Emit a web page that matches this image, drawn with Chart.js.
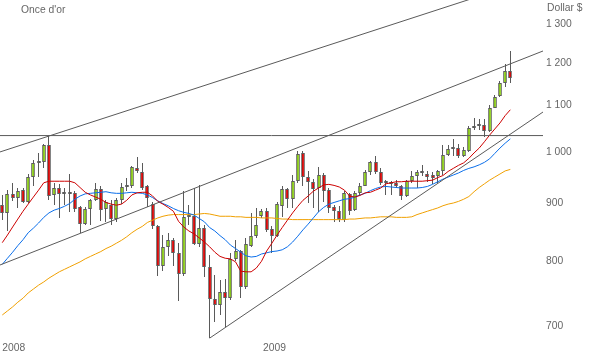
<!DOCTYPE html>
<html>
<head>
<meta charset="utf-8">
<script src="https://cdn.jsdelivr.net/npm/chart.js@4.4.1/dist/chart.umd.min.js"></script>
<style>
  html, body { margin: 0; padding: 0; background: #fff; }
  #wrap { position: relative; width: 591px; height: 353px; overflow: hidden; }
  canvas { position: absolute; left: 0; top: 0; }
  .label {
    position: absolute;
    font: 10.3px "Liberation Sans", Arial, sans-serif;
    color: #666;
    line-height: 1;
    white-space: nowrap;
  }
</style>
</head>
<body>
<div id="wrap">
  <canvas id="goldChart" width="591" height="353"></canvas>
  <div class="label" style="left:21px; top:5px">Once d'or</div>
  <div class="label" style="left:547px; top:3px">Dollar $</div>
</div>
<script>
// weekly candles, Jan 2008 -> Dec 2009 (index = week number)
const opens = [894, 878, 913, 906, 921, 899, 946, 974, 976, 1011,
  912, 925, 915, 913, 916, 889, 859, 886, 902, 923,
  886, 893, 868, 902, 927, 928, 964, 955, 929, 896,
  856, 788, 819, 832, 809, 775, 872, 874, 825, 852,
  787, 737, 728, 747, 738, 800, 813, 755, 822, 838,
  874, 882, 851, 839, 891, 923, 904, 938, 993, 946,
  936, 925, 950, 921, 890, 882, 867, 913, 884, 915,
  929, 955, 975, 955, 936, 932, 934, 928, 910, 938,
  948, 956, 952, 950, 948, 957, 990, 1002, 1004, 988,
  998, 1046, 1051, 1052, 1039, 1091, 1116, 1148, 1175];

const highs = [912, 921, 934, 925, 925, 952, 980, 993, 1013, 1029,
  934, 932, 925, 952, 919, 892, 889, 904, 934, 928,
  902, 902, 906, 934, 945, 967, 986, 974, 931, 899,
  857, 840, 843, 835, 826, 919, 893, 925, 931, 857,
  806, 774, 766, 768, 809, 832, 815, 835, 879, 888,
  886, 887, 855, 899, 928, 925, 950, 997, 997, 958,
  942, 965, 954, 925, 894, 891, 919, 915, 919, 934,
  960, 977, 988, 963, 940, 938, 940, 931, 940, 958,
  960, 970, 958, 956, 960, 1010, 1011, 1023, 1012, 1006,
  1050, 1067, 1065, 1065, 1096, 1120, 1152, 1194, 1226];

const lows = [867, 847, 900, 887, 897, 897, 929, 946, 964, 902,
  893, 870, 893, 881, 881, 843, 857, 857, 900, 865,
  863, 857, 863, 896, 919, 925, 954, 921, 890, 851,
  772, 780, 804, 788, 734, 772, 857, 823, 819, 770,
  680, 703, 713, 696, 735, 796, 738, 752, 820, 835,
  870, 846, 809, 837, 872, 887, 887, 934, 928, 897,
  888, 881, 899, 878, 863, 863, 863, 876, 882, 912,
  928, 950, 952, 931, 912, 912, 926, 902, 908, 934,
  925, 948, 936, 932, 934, 950, 987, 987, 983, 986,
  995, 1042, 1042, 1027, 1037, 1089, 1114, 1138, 1148];

const closes = [878, 913, 906, 919, 899, 946, 974, 976, 1011, 910,
  925, 913, 913, 917, 886, 859, 886, 902, 923, 884,
  899, 868, 902, 927, 929, 965, 957, 925, 906, 856,
  788, 819, 832, 809, 775, 872, 874, 825, 852, 786,
  737, 728, 747, 738, 800, 813, 755, 825, 838, 858,
  882, 848, 839, 896, 923, 904, 938, 992, 946, 936,
  923, 950, 919, 888, 882, 868, 915, 882, 915, 929,
  955, 975, 955, 934, 934, 935, 928, 910, 938, 948,
  956, 953, 946, 945, 957, 990, 1002, 1004, 988, 1000,
  1046, 1051, 1053, 1039, 1091, 1114, 1148, 1175, 1158];

// moving averages (short / medium / long)
const maShort = [827, 840, 854, 868, 882, 895, 908, 921, 935, 938,
  938, 938, 938, 938, 935, 926, 917, 912, 908, 904,
  898, 895, 893, 895, 902, 912, 916, 917, 917, 910,
  900, 895, 889, 882, 864, 854, 847, 842, 835, 828,
  820, 811, 804, 801, 800, 795, 780, 779, 779, 785,
  796, 813, 826, 840, 853, 866, 879, 891, 902, 910,
  919, 925, 931, 932, 930, 927, 921, 910, 908, 911,
  916, 917, 921, 925, 933, 935, 937, 937, 938, 938,
  938, 938, 939, 940, 945, 949, 957, 963, 969, 974,
  983, 994, 1004, 1017, 1031, 1044, 1057, 1073, 1086];

const maMedium = [791, 801, 811, 822, 832, 844, 852, 861, 871, 879,
  884, 887, 891, 896, 904, 910, 914, 915, 916, 917,
  918, 916, 915, 915, 916, 917, 916, 915, 912, 907,
  901, 896, 892, 887, 883, 880, 878, 875, 869, 863,
  853, 847, 839, 832, 823, 817, 811, 805, 803, 804,
  808, 810, 812, 813, 815, 820, 828, 838, 849, 859,
  870, 881, 889, 895, 898, 901, 904, 905, 908, 912,
  915, 920, 924, 927, 928, 927, 926, 925, 925, 925,
  925, 926, 928, 932, 937, 942, 946, 950, 954, 959,
  963, 966, 970, 975, 982, 993, 1004, 1014, 1023];

const maLong = [713, 719, 725, 732, 738, 746, 752, 758, 763, 769,
  774, 779, 783, 787, 791, 795, 800, 804, 808, 812,
  817, 821, 826, 831, 837, 844, 850, 855, 862, 866,
  870, 873, 875, 876, 876, 876, 876, 876, 877, 878,
  877, 875, 873, 873, 873, 872, 872, 871, 871, 871,
  870, 870, 870, 869, 868, 868, 867, 867, 867, 867,
  867, 867, 867, 867, 867, 867, 867, 868, 868, 869,
  870, 870, 871, 872, 872, 872, 871, 871, 871, 872,
  876, 879, 882, 885, 888, 892, 895, 897, 900, 904,
  909, 918, 926, 933, 940, 946, 952, 958, 961];

// trend lines as [week, price] end points
const upperLine = [[-0.44, 996], [104.3, 1430]];
const channelLine = [[-0.44, 790], [104.3, 1225]];
const supportLine = [[40, 680], [104.3, 1081]];
const resistanceLine = [[-0.44, 1030], [104.3, 1030]];

const yTicks = [700, 800, 900, 1000, 1100, 1200, 1300];
const yearLabels = ["2008", "2009"];
const yearStarts = [0, 50.3];

const textColor = "#666";
const tickFont = { family: "Liberation Sans", size: 10.3 };

const toPoints = arr => arr.map((v, i) => ({ x: i, y: v }));
const toLine = pts => pts.map(p => ({ x: p[0], y: p[1] }));

const bodies = opens.map((o, i) => ({ x: i, y: [o, closes[i]] }));
const wicks = lows.map((l, i) => ({ x: i, y: [l, highs[i]] }));
const bodyColors = opens.map((o, i) => closes[i] >= o ? "#8ccf14" : "#dc0000");

function trendDataset(pts) {
  return {
    type: "line",
    data: toLine(pts),
    borderColor: "#5a5a5a",
    borderWidth: 1,
    pointRadius: 0,
    fill: false
  };
}

function maDataset(values, color) {
  return {
    type: "line",
    data: toPoints(values),
    borderColor: color,
    borderWidth: 1,
    pointRadius: 0,
    tension: 0,
    fill: false
  };
}

// snap candle rectangles to whole pixels so they stay crisp
const snapBars = {
  id: "snapBars",
  afterDatasetsUpdate(chart) {
    chart.data.datasets.forEach((ds, i) => {
      if (ds.type !== "bar") return;
      chart.getDatasetMeta(i).data.forEach(el => {
        el.x = ds.maxBarThickness % 2 ? Math.floor(el.x) + 0.5 : Math.round(el.x);
        el.y = Math.round(el.y);
        el.base = Math.round(el.base);
      });
    });
  }
};

const ctx = document.getElementById("goldChart").getContext("2d");

new Chart(ctx, {
  type: "bar",
  data: {
    datasets: [
      trendDataset(upperLine),
      trendDataset(channelLine),
      trendDataset(supportLine),
      trendDataset(resistanceLine),
      maDataset(maShort, "#cc0000"),
      maDataset(maMedium, "#0a6eea"),
      maDataset(maLong, "#f0a000"),
      {
        type: "bar",
        data: bodies,
        backgroundColor: bodyColors,
        borderColor: "#5a5a5a",
        borderWidth: 1,
        borderSkipped: false,
        inflateAmount: 0,
        grouped: false,
        maxBarThickness: 4,
        minBarLength: 2
      },
      {
        type: "bar",
        data: wicks,
        backgroundColor: "#5a5a5a",
        borderWidth: 0,
        inflateAmount: 0,
        grouped: false,
        maxBarThickness: 1
      }
    ]
  },
  options: {
    responsive: false,
    animation: false,
    events: [],
    layout: { padding: 0 },
    plugins: {
      legend: { display: false },
      tooltip: { enabled: false }
    },
    scales: {
      x: {
        type: "linear",
        position: "bottom",
        min: -0.44,
        max: 104.3,
        offset: false,
        grid: { display: false, drawTicks: false },
        border: { display: false },
        ticks: {
          align: "start",
          padding: 2,
          autoSkip: false,
          maxRotation: 0,
          color: textColor,
          font: tickFont,
          callback: (v, i) => yearLabels[i]
        },
        afterBuildTicks: scale => {
          scale.ticks = yearStarts.map(v => ({ value: v }));
        },
        afterFit: scale => {
          scale.height = 13;
          scale.paddingLeft = 0;
          scale.paddingRight = 0;
        }
      },
      y: {
        type: "logarithmic",
        position: "right",
        min: 677.4,
        max: 1360,
        grid: { display: false, drawTicks: false },
        border: { display: false },
        ticks: {
          padding: 3,
          labelOffset: 2,
          color: textColor,
          font: tickFont,
          callback: v => String(v).replace(/\B(?=(\d{3})+(?!\d))/g, " ")
        },
        afterBuildTicks: scale => {
          scale.ticks = yTicks.map(v => ({ value: v }));
        },
        afterFit: scale => {
          scale.width = 48;
          scale.paddingTop = 0;
          scale.paddingBottom = 0;
        }
      }
    }
  },
  plugins: [snapBars]
});
</script>
</body>
</html>
